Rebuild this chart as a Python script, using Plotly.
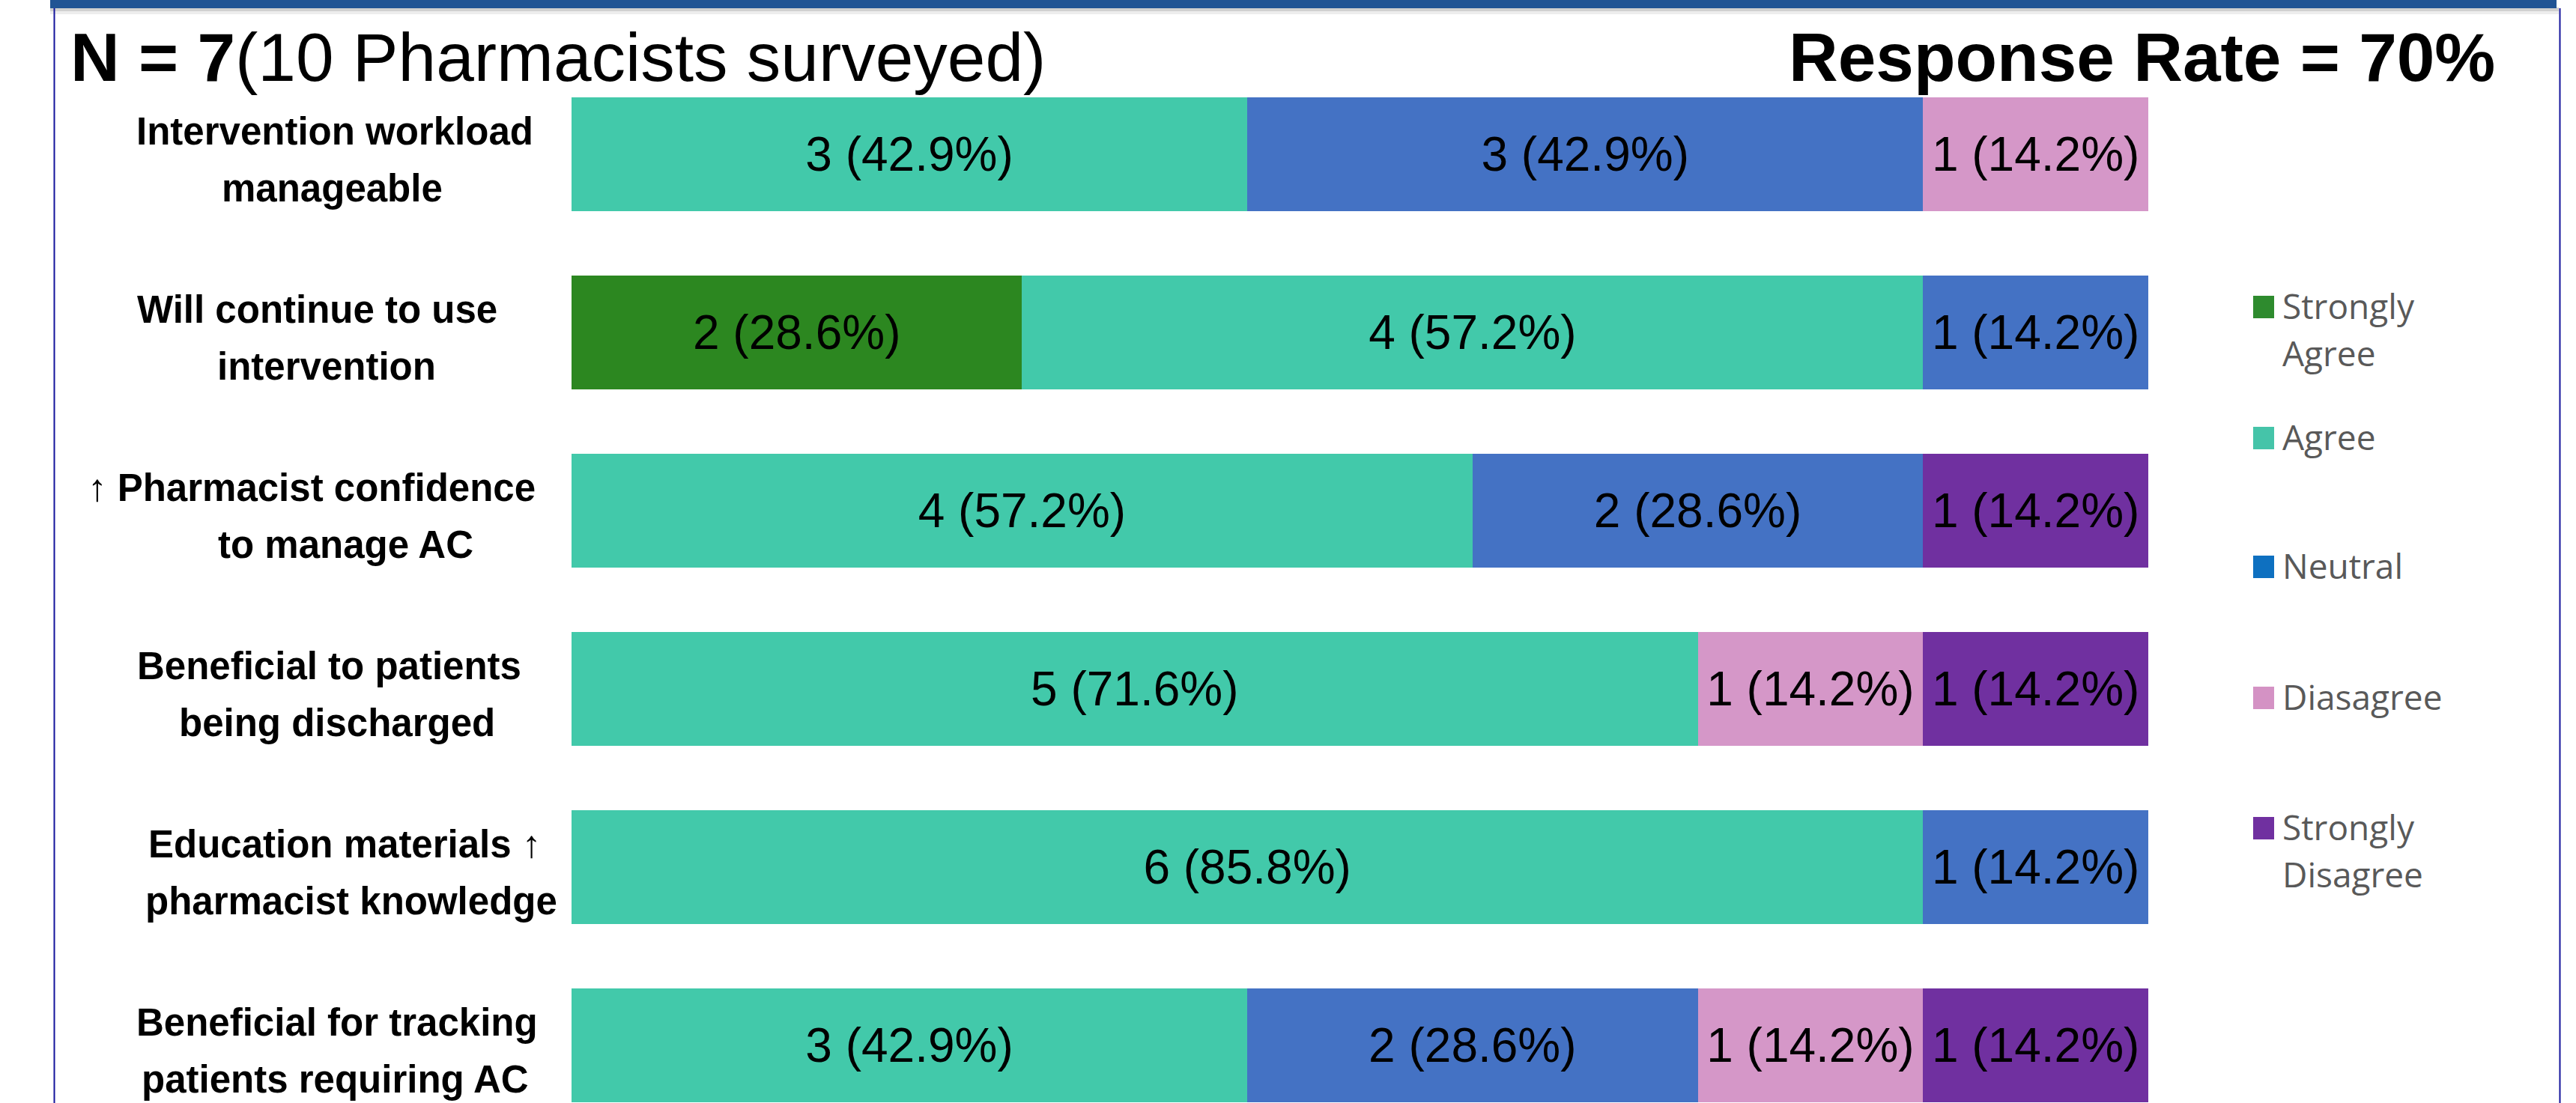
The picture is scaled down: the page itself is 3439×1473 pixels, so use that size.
import plotly.graph_objects as go

# ---------------- data ----------------
label_line1 = ["Intervention workload", "Will continue to use", "↑ Pharmacist confidence",
               "Beneficial to patients", "Education materials ↑", "Beneficial for tracking"]
label_line2 = ["manageable", "intervention", "to manage AC",
               "being discharged", "pharmacist knowledge", "patients requiring AC"]
categories = [a + " " + b for a, b in zip(label_line1, label_line2)]

series_names = ["Strongly Agree", "Agree", "Neutral", "Diasagree", "Strongly Disagree"]
strongly_agree = [0, 2, 0, 0, 0, 0]
agree = [3, 4, 4, 5, 6, 3]
neutral = [3, 1, 2, 0, 1, 2]
disagree = [1, 0, 0, 1, 0, 1]
strongly_disagree = [0, 0, 1, 1, 0, 1]
series_values = [strongly_agree, agree, neutral, disagree, strongly_disagree]
# percentages as printed on the chart
pct_text = {1: "14.2%", 2: "28.6%", 3: "42.9%", 4: "57.2%", 5: "71.6%", 6: "85.8%"}

bar_colors = ["#2C8720", "#42C9AA", "#4472C4", "#D597C8", "#7030A0"]
legend_colors = ["#2E8B2E", "#45C4A9", "#0E70C0", "#D492C4", "#7030A0"]
legend_labels = ["Strongly<br>Agree", "Agree", "Neutral", "Diasagree", "Strongly<br>Disagree"]

title_left = "<b>N = 7</b>(10 Pharmacists surveyed)"
title_right = "<b>Response Rate = 70%</b>"

# ---------------- layout geometry ----------------
W, H = 3439, 1473
L, R, T, B = 763, 571, 87, 0
PW, PH = W - L - R, H - T - B

# horizontal centres (px) of the two lines of each row label, as placed in the poster
line1_cx = [447, 423, 416, 439, 460, 450]
line2_cx = [443, 436, 461, 450, 469, 447]


def px2x(px):
    return (px - L) / PW


def py2y(py):
    return (H - B - py) / PH


ARIAL = "Arial, Liberation Sans, Helvetica, sans-serif"

fig = go.Figure()
for name, vals, col in zip(series_names, series_values, bar_colors):
    fig.add_trace(go.Bar(
        y=categories,
        x=[v if v > 0 else None for v in vals],
        orientation="h",
        name=name,
        marker=dict(color=col, line=dict(width=0)),
        text=[f"{v} ({pct_text[v]})" if v > 0 else "" for v in vals],
        textposition="inside",
        insidetextanchor="middle",
        constraintext="none",
        textangle=0,
        textfont=dict(family=ARIAL, size=64, color="black"),
        showlegend=False,
        hoverinfo="skip",
    ))

annotations = []
# row labels (two lines each)
for cat, l1, l2, c1, c2 in zip(categories, label_line1, label_line2, line1_cx, line2_cx):
    for txt, shift, cx in ((l1, 30, c1), (l2, -46, c2)):
        annotations.append(dict(
            x=px2x(cx), xref="paper", y=cat, yref="y", yshift=shift,
            text=f"<b>{txt}</b>", showarrow=False, xanchor="center", yanchor="middle",
            font=dict(family=ARIAL, size=51, color="black")))

# titles
annotations.append(dict(x=px2x(92), xref="paper", y=py2y(76), yref="paper",
                        text=title_left, showarrow=False, xanchor="left", yanchor="middle",
                        font=dict(family=ARIAL, size=91, color="black")))
annotations.append(dict(x=px2x(3333), xref="paper", y=py2y(76), yref="paper",
                        text=title_right, showarrow=False, xanchor="right", yanchor="middle",
                        font=dict(family=ARIAL, size=91, color="black")))

shapes = []
# custom legend
legend_centers = [410, 585, 757, 932, 1106]
for lab, col, cy in zip(legend_labels, legend_colors, legend_centers):
    shapes.append(dict(type="rect", xref="paper", yref="paper",
                       x0=px2x(3008), x1=px2x(3036), y0=py2y(cy + 15), y1=py2y(cy - 15),
                       fillcolor=col, line=dict(width=0), layer="above"))
    for i, part in enumerate(lab.split("<br>")):
        annotations.append(dict(x=px2x(3045), xref="paper", y=py2y(cy - 2 + 63 * i), yref="paper",
                                text=part, showarrow=False, xanchor="left", yanchor="middle",
                                font=dict(family="Open Sans, Lato, sans-serif", size=46,
                                          color="#595959")))

# poster frame: top band with shadow, side rules
shapes.append(dict(type="rect", xref="paper", yref="paper", x0=px2x(67), x1=px2x(3416),
                   y0=py2y(19), y1=py2y(10), fillcolor="rgba(0,0,0,0.07)", line=dict(width=0)))
shapes.append(dict(type="rect", xref="paper", yref="paper", x0=px2x(67), x1=px2x(3416),
                   y0=py2y(15), y1=py2y(10), fillcolor="rgba(0,0,0,0.12)", line=dict(width=0)))
shapes.append(dict(type="rect", xref="paper", yref="paper", x0=px2x(67), x1=px2x(3413),
                   y0=py2y(11), y1=py2y(-2), fillcolor="#215494", line=dict(width=0)))
for xx in (72.5, 3417.5):
    shapes.append(dict(type="line", xref="paper", yref="paper", x0=px2x(xx), x1=px2x(xx),
                       y0=py2y(11), y1=py2y(1480), line=dict(color="#14149C", width=2)))

fig.update_layout(
    width=W, height=H,
    margin=dict(l=L, r=R, t=T, b=B, pad=0),
    barmode="stack", bargap=0.36,
    paper_bgcolor="white", plot_bgcolor="white",
    xaxis=dict(range=[0, 7], visible=False, fixedrange=True),
    yaxis=dict(type="category", categoryorder="array", categoryarray=categories,
               range=[5.324, -0.5], visible=False, fixedrange=True),
    annotations=annotations,
    shapes=shapes,
    showlegend=False,
)

fig.write_html("out.html")
